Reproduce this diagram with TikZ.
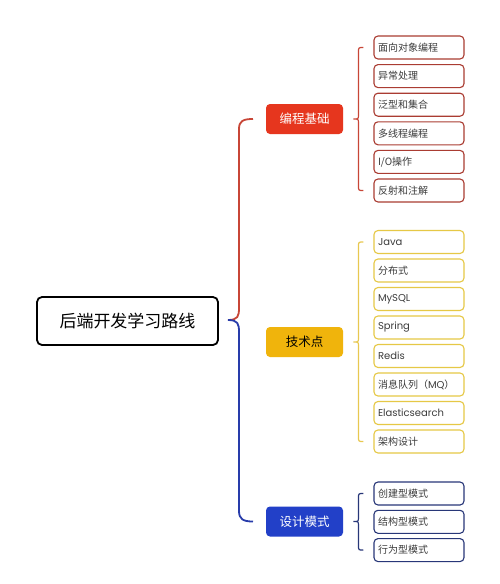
\documentclass[tikz,border=0pt]{standalone}
\usepackage{fontspec}
\setmainfont{Noto Sans CJK SC}
\newfontfamily\latfont{Poppins}
\usetikzlibrary{calc}
\definecolor{cred}{RGB}{230,54,30}
\definecolor{cyel}{RGB}{240,180,12}
\definecolor{cblu}{RGB}{34,64,200}
\definecolor{lred}{RGB}{200,70,55}
\definecolor{bred}{RGB}{170,60,50}
\definecolor{lyel}{RGB}{232,200,80}
\definecolor{byel}{RGB}{230,200,70}
\definecolor{lblu}{RGB}{40,60,170}
\definecolor{bblu}{RGB}{40,55,120}
\definecolor{ctxt}{RGB}{60,60,60}
\tikzset{
  rootbox/.style={draw=black, line width=1.8pt, rounded corners=5pt, minimum width=181pt, minimum height=48pt, font=\fontsize{17}{20}\selectfont, inner sep=0pt},
  catbox/.style={rounded corners=4pt, minimum width=77pt, minimum height=30pt, font=\fontsize{12.5}{15}\selectfont, inner sep=0pt},
  leafbox/.style={rounded corners=4pt, line width=1.1pt, minimum width=90pt, minimum height=23pt, text width=82pt, align=left, inner sep=0pt, font=\fontsize{10}{12}\selectfont, text=ctxt},
  bline/.style={line width=1.8pt},
  brc/.style={line width=1.2pt}
}
\newcommand{\mybrace}[4]{% color, top y-coord node, bottom node, mid y
  \draw[brc,#1] ($(#2.west)+(-10,0)$) .. controls ($(#2.west)+(-15,0)$) .. ($(#2.west)+(-15,5)$)
    -- ($(#2.west |- #4)+(-15,-4)$) .. controls ($(#2.west |- #4)+(-15,0)$) .. ($(#2.west |- #4)+(-20,0)$)
    .. controls ($(#2.west |- #4)+(-15,0)$) .. ($(#2.west |- #4)+(-15,4)$)
    -- ($(#3.west)+(-15,-5)$) .. controls ($(#3.west)+(-15,0)$) .. ($(#3.west)+(-10,0)$);
}
\begin{document}
\begin{tikzpicture}[x=1pt,y=-1pt]
\useasboundingbox[fill=white] (0,0) rectangle (500,584);
\node[rootbox] (root) at (127.5,321) {后端开发学习路线};
\coordinate (hub) at (228,320);
\node[catbox, fill=cred, text=white] (c1) at (304.5,119) {编程基础};
\node[catbox, fill=cyel, text=black] (c2) at (304.5,342) {技术点};
\node[catbox, fill=cblu, text=white] (c3) at (304.5,521.5) {设计模式};
% main bracket
\draw[bline,lred] (hub) .. controls (238,320) and (239,316) .. (239,308) -- (239,129) .. controls (239,121) and (243,119) .. (c1.west -| 253,0) ;
\draw[bline,lblu] (hub) .. controls (238,320) and (239,324) .. (239,332) -- (239,511) .. controls (239,519) and (243,521.5) .. (c3.west -| 253,0);
% red leaves
\foreach \t [count=\i] in {面向对象编程,异常处理,泛型和集合,多线程编程,I/O操作,反射和注解}{
  \node[leafbox, draw=bred] (r\i) at (419,{47.5+28.6*(\i-1)}) {\t};
}
% yellow leaves
\foreach \t [count=\i] in {{\latfont Java},分布式,{\latfont MySQL},{\latfont Spring},{\latfont Redis},消息队列（{\latfont MQ}）,{\latfont Elasticsearch},架构设计}{
  \node[leafbox, draw=byel] (y\i) at (419,{242+28.5*(\i-1)}) {\t};
}
% blue leaves
\foreach \t [count=\i] in {创建型模式,结构型模式,行为型模式}{
  \node[leafbox, draw=bblu] (b\i) at (419,{493.5+28.3*(\i-1)}) {\t};
}
\mybrace{lred}{r1}{r6}{c1}
\mybrace{lyel}{y1}{y8}{c2}
\mybrace{bblu}{b1}{b3}{c3}
\end{tikzpicture}
\end{document}
